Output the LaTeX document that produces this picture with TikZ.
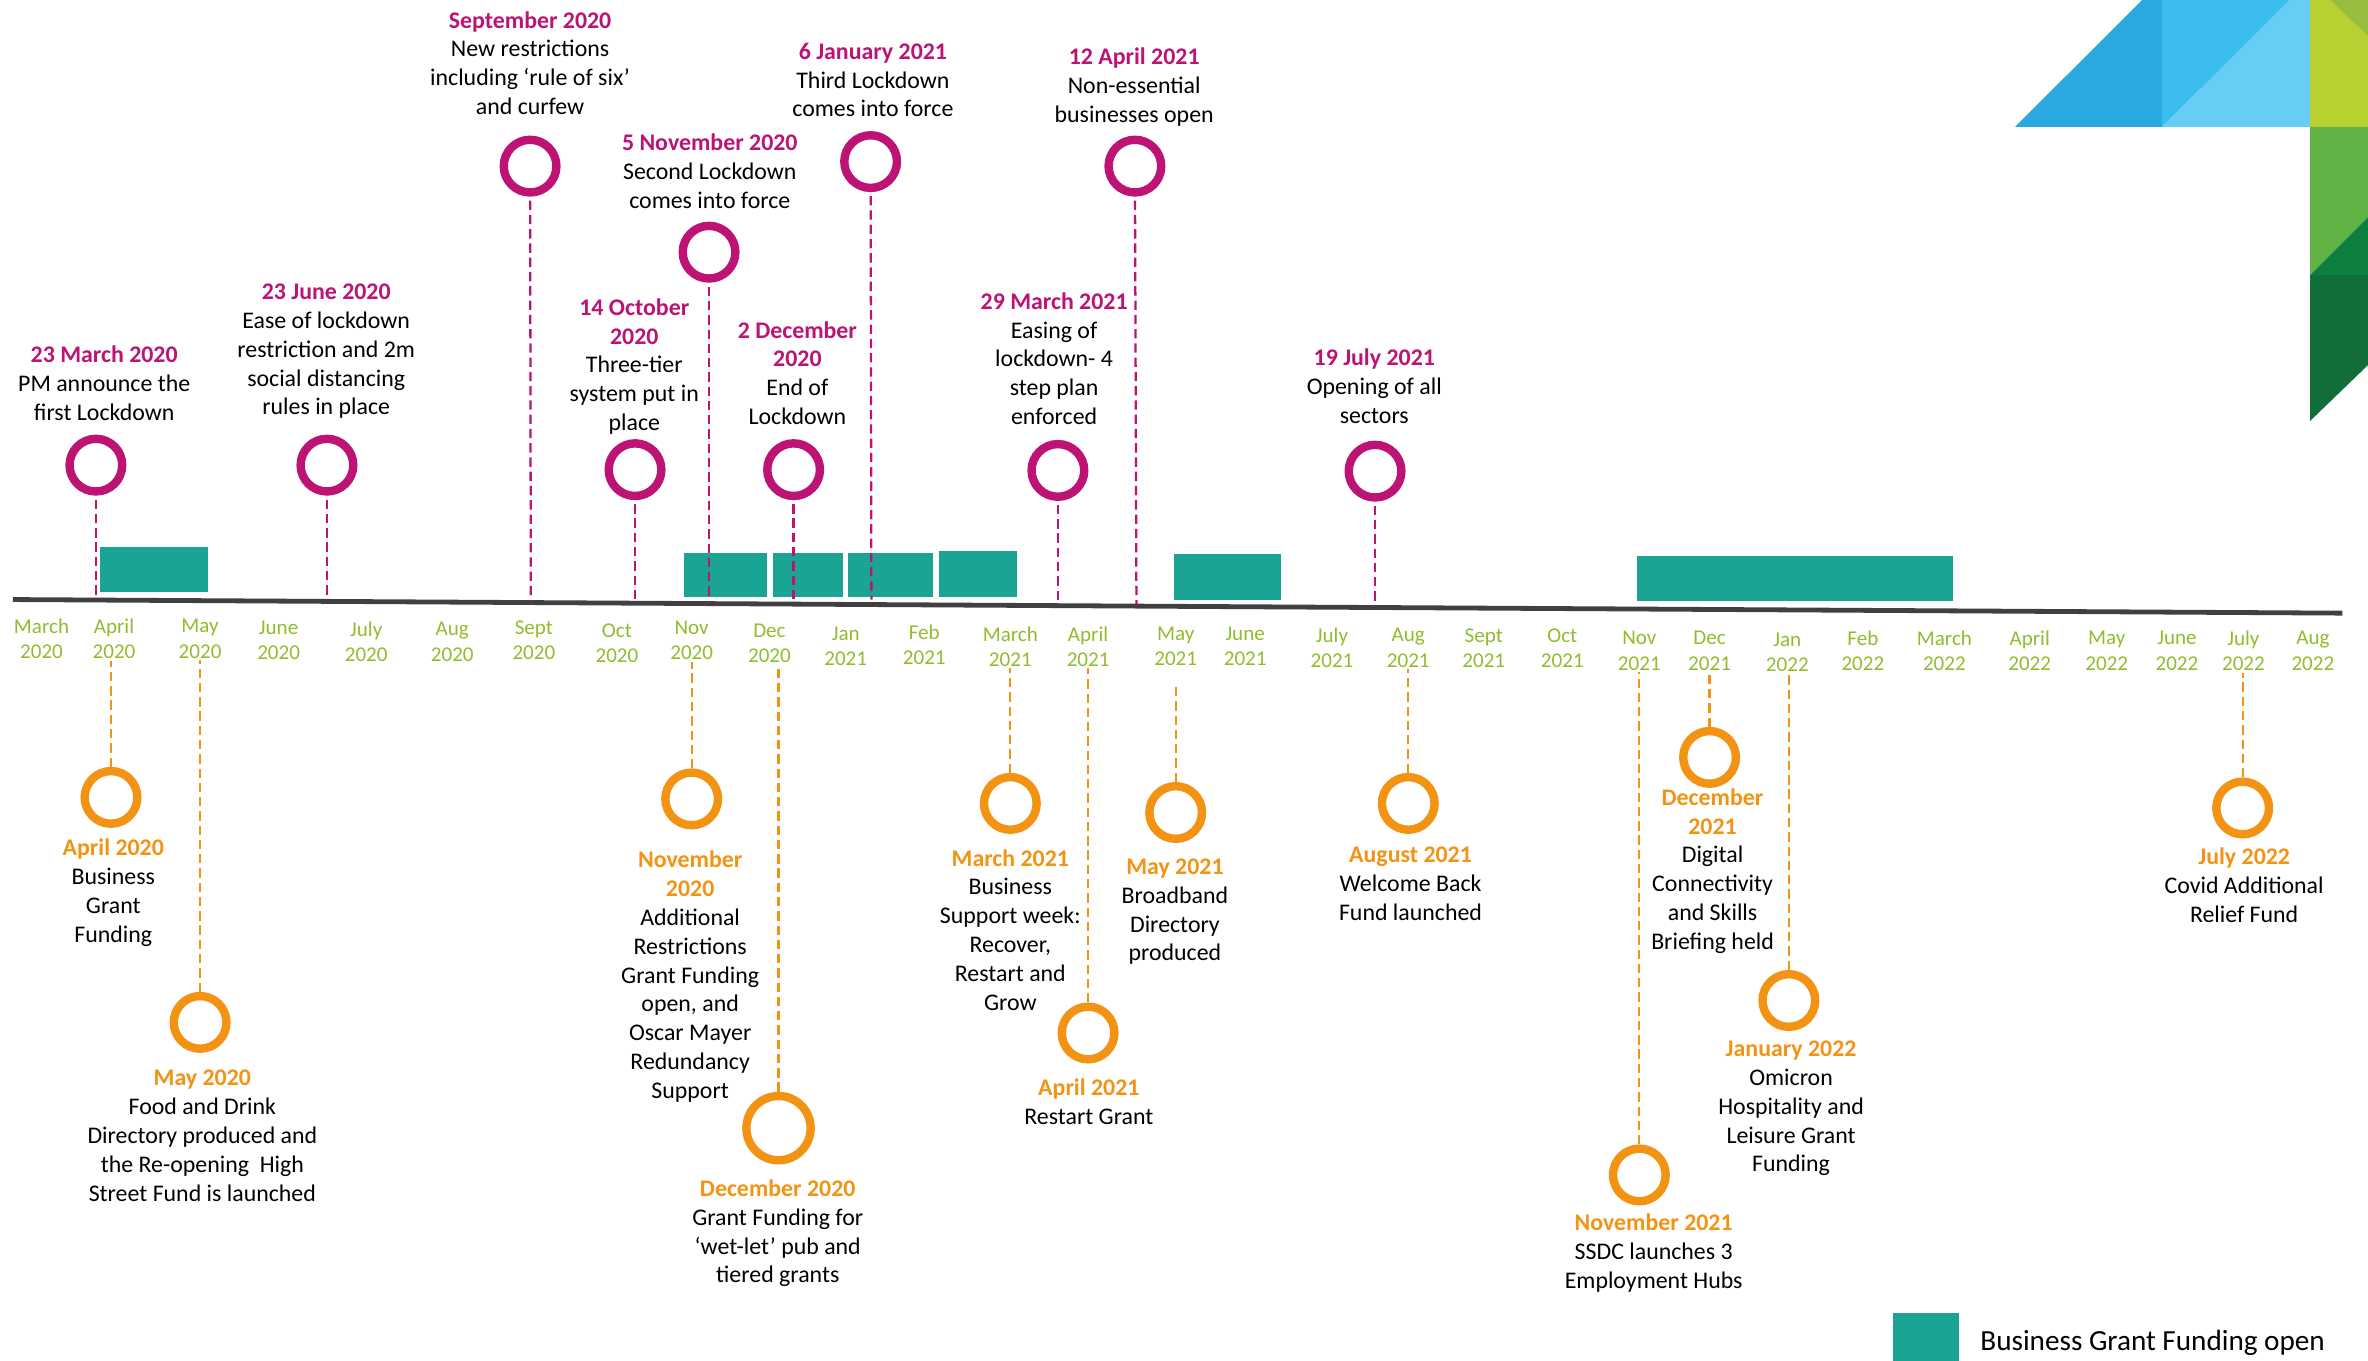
\documentclass[tikz,border=0pt]{standalone}
\usepackage{fontspec}
\setmainfont{Carlito}
\definecolor{evpurple}{HTML}{BC1375}
\definecolor{evorange}{HTML}{F39314}
\definecolor{monthgreen}{HTML}{91BC2D}
\definecolor{fundteal}{HTML}{1BA394}
\definecolor{axisgrey}{HTML}{404040}
\definecolor{logoa}{HTML}{29ABE2}
\definecolor{logob}{HTML}{3BBDEE}
\definecolor{logoc}{HTML}{66CDF5}
\definecolor{logod}{HTML}{B8D030}
\definecolor{logoe}{HTML}{97BF3D}
\definecolor{logof}{HTML}{62B346}
\definecolor{logog}{HTML}{0E7F3F}
\definecolor{logoh}{HTML}{116D3A}
\newcommand{\pdate}[1]{\textcolor{evpurple}{\textbf{#1}}}
\newcommand{\odate}[1]{\textcolor{evorange}{\textbf{#1}}}
\tikzset{every picture/.style={line width=0.75pt},
  ringtop/.style={circle,draw=evpurple,line width=6.3pt,inner sep=0pt,minimum size=39.5pt},
  ringbot/.style={circle,draw=evorange,line width=6.3pt,inner sep=0pt,minimum size=39.5pt},
  linktop/.style={draw=evpurple,line width=1.7pt,dash pattern=on 7pt off 3.7pt,shorten <=3pt},
  linkbot/.style={draw=evorange,line width=1.7pt,dash pattern=on 7pt off 3.7pt},
  evtext/.style={align=center,inner sep=0pt,font=\fontsize{17.9}{21.6}\selectfont},
  monthlbl/.style={align=center,inner sep=1pt,text=monthgreen,font=\fontsize{15.8}{18.9}\selectfont},
  fundbar/.style={fill=fundteal,draw=none}}

\begin{document}
\begin{tikzpicture}[x=1.1327pt,y=1.1327pt,yscale=-1,xscale=1]
\useasboundingbox (0,0) rectangle (1568,901);

%Logo
\fill [logoa] (1334.3,84) -- (1418.4,0) -- (1431.6,0) -- (1431.6,84) -- cycle;
\fill [logob] (1431.6,84) -- (1431.6,0) -- (1516.4,0) -- cycle;
\fill [logoc] (1431.6,84) -- (1516.4,0) -- (1529.6,0) -- (1529.6,84) -- cycle;
\fill [logod] (1529.6,0) -- (1568,0) -- (1568,84) -- (1529.6,84) -- cycle;
\fill [logoe] (1542.9,0) -- (1568,0) -- (1568,23.8) -- cycle;
\fill [logof] (1529.6,84) -- (1568,84) -- (1568,143.7) -- (1529.6,182.1) -- cycle;
\fill [logog] (1529.6,182.1) -- (1568,143.7) -- (1568,182.1) -- cycle;
\fill [logoh] (1529.6,182.1) -- (1568,182.1) -- (1568,241.7) -- (1529.6,278.8) -- cycle;

%Funding bars
\fill [fundbar] (66.5,362) rectangle (137.7,392);
\fill [fundbar] (453,366) rectangle (508,395);
\fill [fundbar] (512,366) rectangle (558,395);
\fill [fundbar] (561.5,366) rectangle (618,395.5);
\fill [fundbar] (621.5,365) rectangle (673.5,395);
\fill [fundbar] (777.5,367) rectangle (848.5,397);
\fill [fundbar] (1084,368) rectangle (1293,398);

%Time axis
\coordinate (axisL) at (8.5,397);
\coordinate (axisR) at (1551,406);
\draw [color=axisgrey,line width=3.6pt] (axisL) -- (axisR);

%Month labels
\node [monthlbl] (mMar20) at (27.5,423) {March\\2020};
\node [monthlbl] (mApr20) at (75.5,423) {April\\2020};
\node [monthlbl] (mMay20) at (132.5,423) {May\\2020};
\node [monthlbl] (mJun20) at (184.5,424) {June\\2020};
\node [monthlbl] (mJul20) at (242.5,425) {July\\2020};
\node [monthlbl] (mAug20) at (299.5,425) {Aug\\2020};
\node [monthlbl] (mSep20) at (353.5,424) {Sept\\2020};
\node [monthlbl] (mOct20) at (408.5,426) {Oct\\2020};
\node [monthlbl] (mNov20) at (458,424) {Nov\\2020};
\node [monthlbl] (mDec20) at (509.5,426) {Dec\\2020};
\node [monthlbl] (mJan21) at (560,428) {Jan\\2021};
\node [monthlbl] (mFeb21) at (612,427) {Feb\\2021};
\node [monthlbl] (mMar21) at (669,428) {March\\2021};
\node [monthlbl] (mApr21) at (720.5,428) {April\\2021};
\node [monthlbl] (mMay21) at (778.5,428) {May\\2021};
\node [monthlbl] (mJun21) at (824.5,428) {June\\2021};
\node [monthlbl] (mJul21) at (882,429) {July\\2021};
\node [monthlbl] (mAug21) at (932.5,429) {Aug\\2021};
\node [monthlbl] (mSep21) at (982.5,429) {Sept\\2021};
\node [monthlbl] (mOct21) at (1034.5,429) {Oct\\2021};
\node [monthlbl] (mNov21) at (1085.5,431) {Nov\\2021};
\node [monthlbl] (mDec21) at (1132,431) {Dec\\2021};
\node [monthlbl] (mJan22) at (1183.5,432) {Jan\\2022};
\node [monthlbl] (mFeb22) at (1233.5,431) {Feb\\2022};
\node [monthlbl] (mMar22) at (1287.5,431) {March\\2022};
\node [monthlbl] (mApr22) at (1344,431) {April\\2022};
\node [monthlbl] (mMay22) at (1395,431) {May\\2022};
\node [monthlbl] (mJun22) at (1441.5,431) {June\\2022};
\node [monthlbl] (mJul22) at (1485.5,431) {July\\2022};
\node [monthlbl] (mAug22) at (1531.5,431) {Aug\\2022};

%Restrictions, above the axis
\node [ringtop] (rLock1) at (63.5,308) {};
\node [ringtop] (rEase1) at (216.5,308) {};
\node [ringtop] (rSix) at (351,110) {};
\node [ringtop] (rTier) at (420.5,311) {};
\node [ringtop] (rLock2) at (469.5,167) {};
\node [ringtop] (rEnd2) at (525.5,311) {};
\node [ringtop] (rLock3) at (576.5,107) {};
\node [ringtop] (rStep) at (700.5,311.5) {};
\node [ringtop] (rShops) at (751.5,110) {};
\node [ringtop] (rOpen) at (910.5,312) {};
\coordinate (aLock1) at (63.5,394);
\coordinate (aEase1) at (216.5,396);
\coordinate (aSix) at (351.5,398);
\coordinate (aTier) at (420.5,398);
\coordinate (aLock2) at (469.5,399);
\coordinate (aEnd2) at (525.5,399);
\coordinate (aLock3) at (577,397);
\coordinate (aStep) at (700.5,400);
\coordinate (aShops) at (752.5,400);
\coordinate (aOpen) at (910.5,401);
\draw [linktop] (rLock1) -- (aLock1);
\draw [linktop] (rEase1) -- (aEase1);
\draw [linktop] (rSix) -- (aSix);
\draw [linktop] (rTier) -- (aTier);
\draw [linktop] (rLock2) -- (aLock2);
\draw [linktop] (rEnd2) -- (aEnd2);
\draw [linktop] (rLock3) -- (aLock3);
\draw [linktop] (rStep) -- (aStep);
\draw [linktop] (rShops) -- (aShops);
\draw [linktop] (rOpen) -- (aOpen);

\node [evtext] (tLock1) at (69,253.7) {\pdate{23 March 2020}\\PM announce the\\first Lockdown};
\node [evtext] (tEase1) at (216,232.7) {\pdate{23 June 2020}\\Ease of lockdown\\restriction and 2m\\social distancing\\rules in place};
\node [evtext] (tSix) at (351,41.7) {\pdate{September 2020}\\New restrictions\\including ‘rule of six’\\and curfew};
\node [evtext] (tTier) at (420,242.7) {\pdate{14 October}\\\pdate{2020}\\Three-tier\\system put in\\place};
\node [evtext] (tLock2) at (470,113.4) {\pdate{5 November 2020}\\Second Lockdown\\comes into force};
\node [evtext] (tEnd2) at (528,247) {\pdate{2 December}\\\pdate{2020}\\End of\\Lockdown};
\node [evtext] (tLock3) at (578,53) {\pdate{6 January 2021}\\Third Lockdown\\comes into force};
\node [evtext] (tStep) at (698,237.5) {\pdate{29 March 2021}\\Easing of\\lockdown- 4\\step plan\\enforced};
\node [evtext] (tShops) at (751,57.7) {\pdate{12 April 2021}\\Non-essential\\businesses open};
\node [evtext] (tOpen) at (910,255.7) {\pdate{19 July 2021}\\Opening of all\\sectors};

%Support, below the axis
\node [ringbot] (rBizGrant) at (73.5,528) {};
\node [ringbot] (rHighSt) at (132.5,677) {};
\node [ringbot] (rAddGrant) at (458,529) {};
\node [ringbot,minimum size=48.2pt] (rWetLet) at (515.5,747) {};
\node [ringbot] (rWeek) at (669,532) {};
\node [ringbot] (rRestart) at (720.5,684) {};
\node [ringbot] (rBroad) at (778.5,538) {};
\node [ringbot] (rWelcome) at (932.5,532) {};
\node [ringbot] (rHubs) at (1085.5,778) {};
\node [ringbot] (rDigital) at (1132,501.5) {};
\node [ringbot] (rOmicron) at (1184.5,662.5) {};
\node [ringbot] (rRelief) at (1485,535) {};
\coordinate (aBroad) at (778.5,452);
\draw [linkbot] (rBizGrant) -- (rBizGrant.north |- mApr20.south);
\draw [linkbot] (rHighSt) -- (rHighSt.north |- mMay20.south);
\draw [linkbot] (rAddGrant) -- (rAddGrant.north |- mNov20.south);
\draw [linkbot] (rWetLet) -- (rWetLet.north |- mDec20.south);
\draw [linkbot] (rWeek) -- (rWeek.north |- mMar21.south);
\draw [linkbot] (rRestart) -- (rRestart.north |- mApr21.south);
\draw [linkbot] (rBroad) -- (aBroad);
\draw [linkbot] (rWelcome) -- (rWelcome.north |- mAug21.south);
\draw [linkbot] (rHubs) -- (rHubs.north |- mNov21.south);
\draw [linkbot] (rDigital) -- (rDigital.north |- mDec21.south);
\draw [linkbot] (rOmicron) -- (rOmicron.north |- mJan22.south);
\draw [linkbot] (rRelief) -- (rRelief.north |- mJul22.south);

\node [evtext] (tBizGrant) at (75,591) {\odate{April 2020}\\Business\\Grant\\Funding};
\node [evtext] (tHighSt) at (134,752) {\odate{May 2020}\\Food and Drink\\Directory produced and\\the Re-opening~ High\\Street Fund is launched};
\node [evtext] (tAddGrant) at (457,646.7) {\odate{November}\\\odate{2020}\\Additional\\Restrictions\\Grant Funding\\open, and\\Oscar Mayer\\Redundancy\\Support};
\node [evtext] (tWetLet) at (515,816.7) {\odate{December 2020}\\Grant Funding for\\‘wet-let’ pub and\\tiered grants};
\node [evtext] (tWeek) at (669,615.7) {\odate{March 2021}\\Business\\Support week:\\Recover,\\Restart and\\Grow};
\node [evtext] (tRestart) at (721,729.7) {\odate{April 2021}\\Restart Grant};
\node [evtext] (tBroad) at (778,603.7) {\odate{May 2021}\\Broadband\\Directory\\produced};
\node [evtext] (tWelcome) at (934,585) {\odate{August 2021}\\Welcome Back\\Fund launched};
\node [evtext] (tHubs) at (1095,829.7) {\odate{November 2021}\\SSDC launches 3\\Employment Hubs};
\node [evtext] (tDigital) at (1134,576.7) {\odate{December}\\\odate{2021}\\Digital\\Connectivity\\and Skills\\Briefing held};
\node [evtext] (tOmicron) at (1186,734) {\odate{January 2022}\\Omicron\\Hospitality and\\Leisure Grant\\Funding};
\node [evtext] (tRelief) at (1486,586) {\odate{July 2022}\\Covid Additional\\Relief Fund};

%Legend
\fill [fundbar] (1253.6,869.5) rectangle (1297,901);
\node [evtext,anchor=west,font=\fontsize{21.9}{24}\selectfont] (tLegend) at (1311,889) {Business Grant Funding open};

\end{tikzpicture}
\end{document}
